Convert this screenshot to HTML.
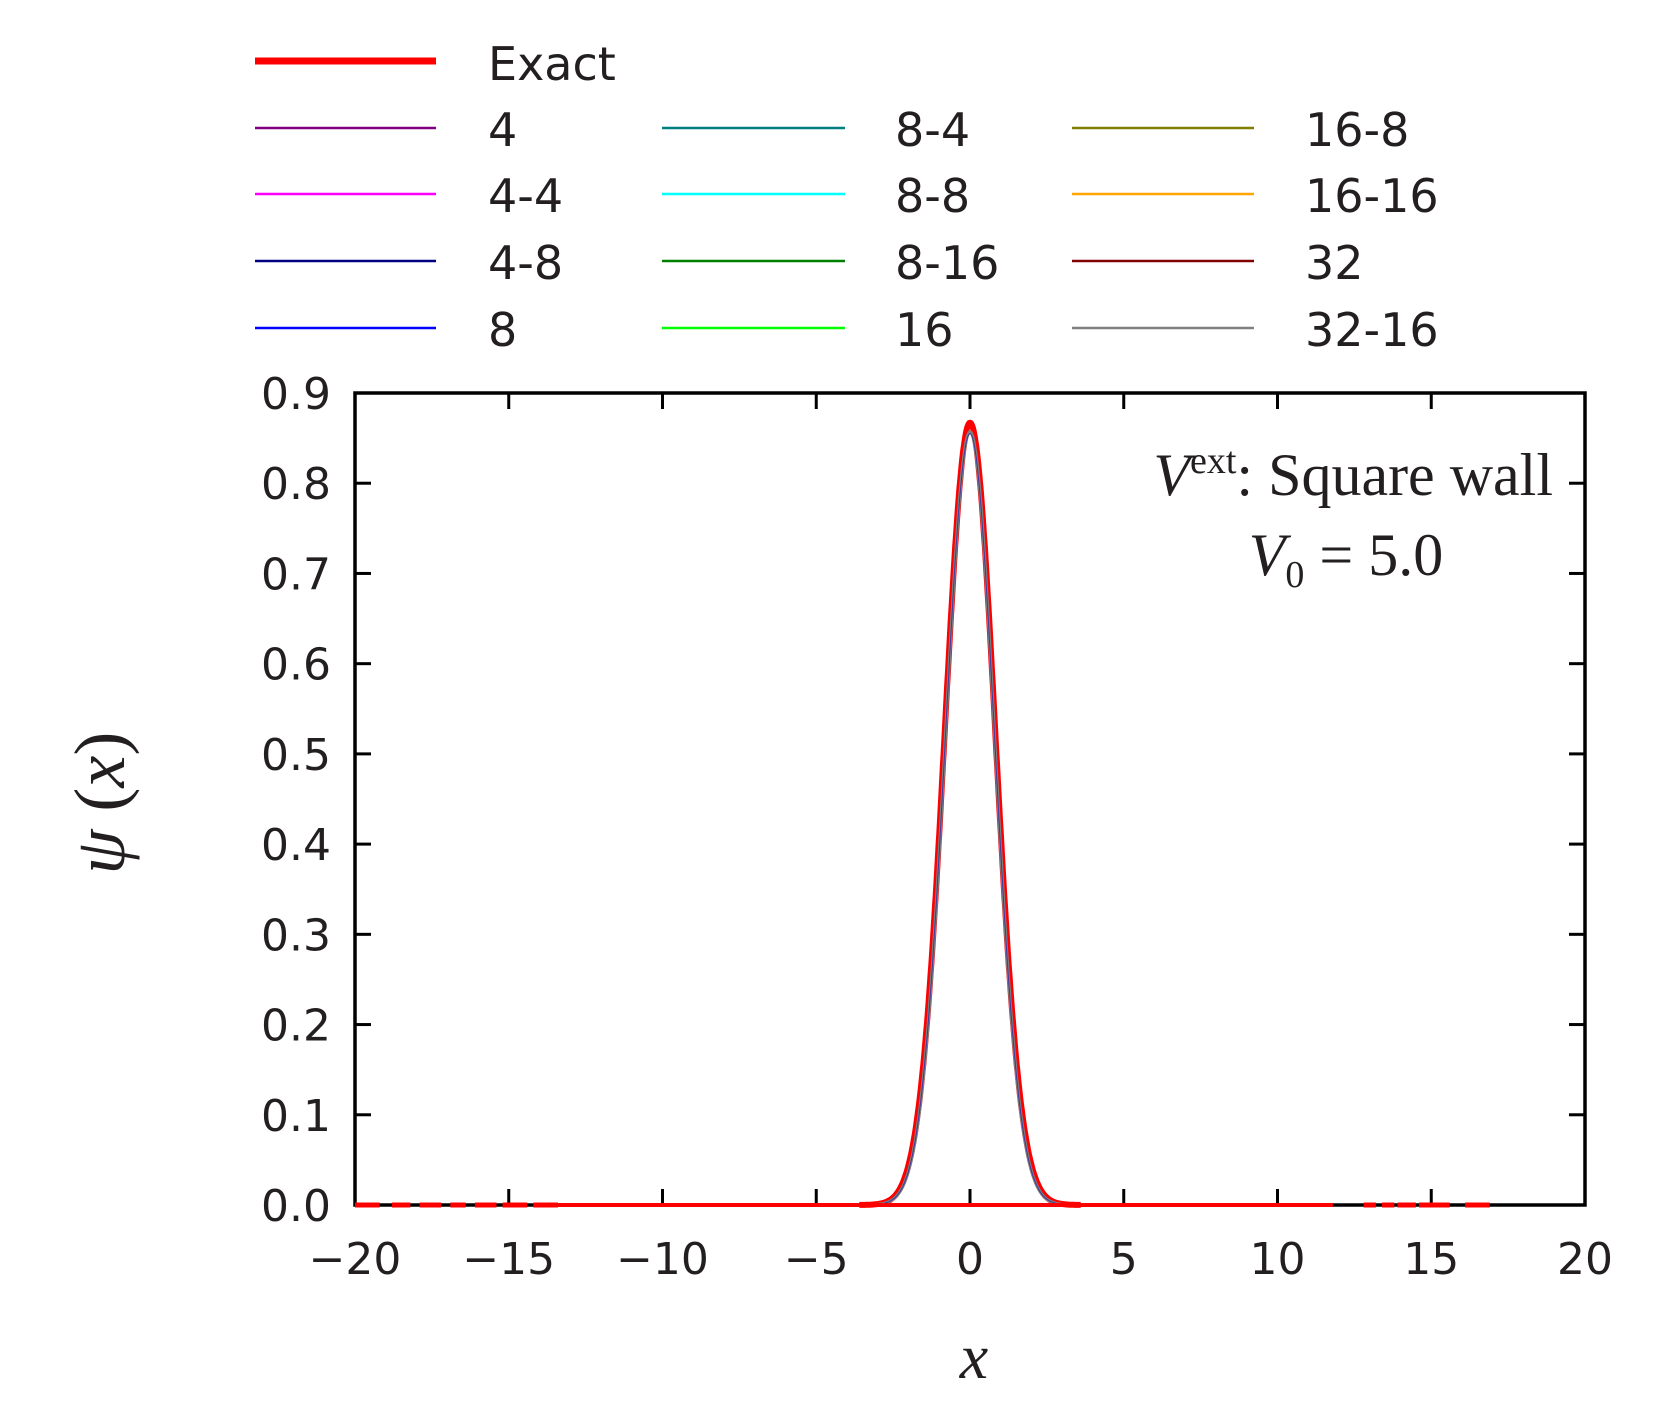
<!DOCTYPE html>
<html><head><meta charset="utf-8"><style>
html,body{margin:0;padding:0;background:#fff;width:1660px;height:1416px;overflow:hidden}
svg text{fill:#231f20}
.s{font-family:"DejaVu Sans","Liberation Sans",sans-serif;font-size:44px}
.l{font-family:"DejaVu Sans","Liberation Sans",sans-serif;font-size:46px}
.m{font-family:"Liberation Serif",serif}
</style></head><body>
<svg id="c" width="1660" height="1416" xmlns="http://www.w3.org/2000/svg">
<g stroke-width="2.5">
<line x1="255" y1="61" x2="436" y2="61" stroke="#ff0000" stroke-width="7"/>
<line x1="255" y1="128" x2="436" y2="128" stroke="#800080"/>
<line x1="255" y1="194" x2="436" y2="194" stroke="#ff00ff"/>
<line x1="255" y1="261" x2="436" y2="261" stroke="#000080"/>
<line x1="255" y1="328" x2="436" y2="328" stroke="#0000ff"/>
<line x1="662" y1="128" x2="845" y2="128" stroke="#008080"/>
<line x1="662" y1="194" x2="845" y2="194" stroke="#00ffff"/>
<line x1="662" y1="261" x2="845" y2="261" stroke="#008000"/>
<line x1="662" y1="328" x2="845" y2="328" stroke="#00ff00"/>
<line x1="1072" y1="128" x2="1254" y2="128" stroke="#808000"/>
<line x1="1072" y1="194" x2="1254" y2="194" stroke="#ffa500"/>
<line x1="1072" y1="261" x2="1254" y2="261" stroke="#800000"/>
<line x1="1072" y1="328" x2="1254" y2="328" stroke="#808080"/>
</g>
<g class="l">
<text x="488" y="80">Exact</text>
<text x="488" y="146">4</text><text x="488" y="212">4-4</text><text x="488" y="279">4-8</text><text x="488" y="346">8</text>
<text x="895" y="146">8-4</text><text x="895" y="212">8-8</text><text x="895" y="279">8-16</text><text x="895" y="346">16</text>
<text x="1305" y="146">16-8</text><text x="1305" y="212">16-16</text><text x="1305" y="279">32</text><text x="1305" y="346">32-16</text>
</g>
<rect x="355" y="393" width="1230" height="812" fill="none" stroke="#000" stroke-width="3.5"/>
<g id="ticks" stroke="#000" stroke-width="3"></g>
<g id="curves"></g>
<g id="labels" class="s"></g>
<text class="m" x="974" y="1378" font-size="64" font-style="italic" text-anchor="middle">x</text>
<text class="m" font-size="72" transform="translate(124,803) rotate(-90)" text-anchor="middle"><tspan font-style="italic">ψ</tspan> (<tspan font-style="italic">x</tspan>)</text>
<text class="m" x="1553" y="495" font-size="60" text-anchor="end"><tspan font-style="italic">V</tspan><tspan font-size="38" dy="-22">ext</tspan><tspan dy="22">: Square wall</tspan></text>
<text class="m" x="1346" y="575" font-size="60" text-anchor="middle"><tspan font-style="italic">V</tspan><tspan font-size="38" dy="12">0</tspan><tspan dy="-12"> = 5.0</tspan></text>
</svg>
<script>
var L=355,R=1585,T=393,B=1205;
function X(v){return L+(v+20)/40*(R-L)}
function Y(v){return B-v/0.9*(B-T)}
var ns="http://www.w3.org/2000/svg";
function el(p,n,a,t){var e=document.createElementNS(ns,n);for(var k in a)e.setAttribute(k,a[k]);if(t!=null)e.textContent=t;p.appendChild(e);return e}
var tk=document.getElementById('ticks'),lb=document.getElementById('labels'),cv=document.getElementById('curves');
for(var v=-20;v<=20;v+=5){var x=X(v);
 if(v>-20&&v<20){el(tk,'line',{x1:x,y1:B,x2:x,y2:B-16});el(tk,'line',{x1:x,y1:T,x2:x,y2:T+16});}
 el(lb,'text',{x:x,y:1274,'text-anchor':'middle'},(v<0?'\u2212':'')+Math.abs(v));}
for(var i=0;i<=9;i++){var y=Y(i/10);
 if(i>0&&i<9){el(tk,'line',{x1:L,y1:y,x2:L+16,y2:y});el(tk,'line',{x1:R,y1:y,x2:R-16,y2:y});}
 el(lb,'text',{x:331,y:y+16,'text-anchor':'end'},(i/10).toFixed(1));}
function path(a,s,x0,x1){var d='';for(var v=x0;v<=x1+1e-9;v+=0.02){var u=a*Math.exp(-v*v/(2*s*s));d+=(d?'L':'M')+X(v).toFixed(1)+','+Y(u).toFixed(1);}return d}
el(cv,'path',{d:path(0.867,0.82,-3.6,3.6),fill:'none',stroke:'#ff0000','stroke-width':6});
el(cv,'path',{d:path(0.857,0.80,-3.5,3.5),fill:'none',stroke:'#808080','stroke-width':3});
el(cv,'path',{d:path(0.855,0.80,-3.5,3.5),fill:'none',stroke:'#3a3aa0','stroke-width':1});
var ds=[[-20,-19.2],[-18.8,-18.2],[-17.9,-17.2],[-16.9,-16.4],[-16.1,-15.4],[-15.2,-14.4],[-14.2,-13.4],[12.8,13.2],[13.4,13.8],[13.9,14.5],[14.6,15.6],[16.1,16.9]];
ds.forEach(function(s){el(cv,'line',{x1:X(s[0]),y1:B,x2:X(s[1]),y2:B,stroke:'#ff0000','stroke-width':5});});
el(cv,'line',{x1:X(-13.4),y1:B,x2:X(11.8),y2:B,stroke:'#ff0000','stroke-width':4});
</script>
</body></html>
